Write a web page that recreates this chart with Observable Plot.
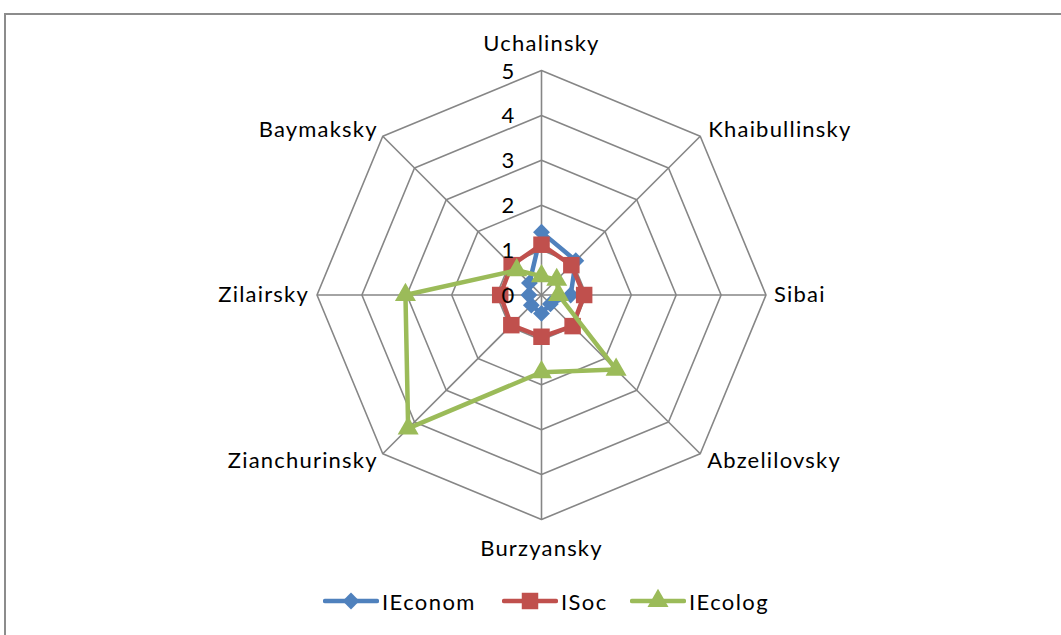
<!DOCTYPE html>
<html>
<head>
<meta charset="utf-8">
<script src="https://cdn.jsdelivr.net/npm/d3@7"></script>
<script src="https://cdn.jsdelivr.net/npm/@observablehq/plot@0.6"></script>
<style>
  html, body { margin: 0; padding: 0; background: #fff; overflow: hidden; }
  body { width: 1061px; height: 635px; position: relative; font-family: Lato, "Open Sans", sans-serif; }
  #frame { position: absolute; left: 4px; top: 13px; width: 1200px; height: 800px; border: 2px solid #8c8c8c; box-sizing: border-box; }
  #chart { position: absolute; left: 0; top: 0; }
  #legend { position: absolute; left: 0; top: 586px; width: 1061px; height: 30px; }
  .item { position: absolute; top: 0; display: flex; align-items: center; font-size: 22px; letter-spacing: 1.4px; color: #000; }
  .item svg { margin-right: 3px; }
</style>
</head>
<body>
<div id="frame"></div>
<div id="chart"></div>
<div id="legend"></div>
<script>
// ---- data ----
const categories = ["Uchalinsky", "Khaibullinsky", "Sibai", "Abzelilovsky", "Burzyansky", "Zianchurinsky", "Zilairsky", "Baymaksky"];
const IEconom = [1.4, 1.08, 0.65, 0.28, 0.41, 0.32, 0.28, 0.38];
const ISoc = [1.12, 0.94, 0.95, 0.98, 0.93, 0.95, 0.92, 0.94];
const IEcolog = [0.42, 0.48, 0.38, 2.35, 1.72, 4.2, 3.03, 0.78];
const ticks = [0, 1, 2, 3, 4, 5];
const seriesNames = ["IEconom", "ISoc", "IEcolog"];
const seriesColors = ["#4F81BD", "#C0504D", "#9BBB59"];
const seriesSymbols = ["diamond2", "square", "triangle"];
const seriesR = [7.6, 9.3, 7.8];

// ---- geometry helpers ----
const n = categories.length;
const angle = i => Math.PI / 2 - i * 2 * Math.PI / n;
const pt = (i, r) => [r * Math.cos(angle(i)), r * Math.sin(angle(i))];

const W = 1061, H = 575;
const cx = 541, cy = 294.5, unit = 44.9;
const maxR = d3.max(ticks);

// grid rings
const rings = [];
ticks.filter(t => t > 0).forEach(t => categories.forEach((c, i) => {
  const [x, y] = pt(i, t); rings.push({ring: t, x, y});
}));
// spokes
const spokes = categories.map((c, i) => { const [x2, y2] = pt(i, maxR); return {x1: 0, y1: 0, x2, y2}; });
// tick labels
const tickData = ticks.map(t => ({t, x: 0, y: t}));
// category labels
const labelOpts = [
  {anchor: "middle", dx: 0, dy: -27},
  {anchor: "start", dx: 8, dy: -6},
  {anchor: "start", dx: 8, dy: 0},
  {anchor: "start", dx: 7, dy: 7},
  {anchor: "middle", dx: 0, dy: 29},
  {anchor: "end", dx: -5, dy: 7},
  {anchor: "end", dx: -8, dy: 0},
  {anchor: "end", dx: -5, dy: -6}
];
const catData = categories.map((c, i) => { const [x, y] = pt(i, maxR); return {c, x, y, ...labelOpts[i]}; });

// series
const allSeries = [IEconom, ISoc, IEcolog];
const seriesData = allSeries.map((vals, s) => vals.map((v, i) => {
  const [x, y] = pt(i, v); return {series: seriesNames[s], cat: categories[i], v, x, y};
}));

const marks = [
  Plot.line(rings, {x: "x", y: "y", z: "ring", curve: "linear-closed", stroke: "#868686", strokeWidth: 1.6}),
  Plot.link(spokes, {x1: "x1", y1: "y1", x2: "x2", y2: "y2", stroke: "#868686", strokeWidth: 1.6}),
];
seriesData.forEach((d, s) => {
  marks.push(Plot.line(d, {x: "x", y: "y", curve: "linear-closed", stroke: seriesColors[s], strokeWidth: 4.5, strokeLinejoin: "round"}));
  marks.push(Plot.dot(d, {x: "x", y: "y", symbol: seriesSymbols[s], r: seriesR[s], fill: seriesColors[s], stroke: "none"}));
});
marks.push(Plot.text(tickData, {x: "x", y: "y", text: d => String(d.t), dx: -33, dy: 1, fontSize: 22, fill: "#000", textAnchor: "middle"}));
["start", "middle", "end"].forEach(a => {
  const sub = catData.filter(d => d.anchor === a);
  sub.forEach(d => marks.push(Plot.text([d], {x: "x", y: "y", text: "c", dx: d.dx, dy: d.dy, textAnchor: a, fontSize: 22, fill: "#000"})));
});

const chart = Plot.plot({
  width: W, height: H,
  margin: 0,
  style: {fontFamily: "Lato, 'Open Sans', sans-serif", background: "transparent", overflow: "visible", letterSpacing: "1.2px"},
  x: {type: "linear", domain: [-cx / unit, (W - cx) / unit], range: [0, W], axis: null},
  y: {type: "linear", domain: [-(H - cy) / unit, cy / unit], range: [H, 0], axis: null},
  marks
});
document.getElementById("chart").appendChild(chart);

// legend
const legend = document.getElementById("legend");
const legendX = [323, 502, 630];
seriesNames.forEach((name, s) => {
  const item = document.createElement("div");
  item.className = "item";
  item.style.left = legendX[s] + "px";
  const sym = d3.symbol().type([d3.symbolDiamond2, d3.symbolSquare, d3.symbolTriangle][s]).size(seriesR[s] * seriesR[s] * Math.PI)();
  item.innerHTML = `<svg width="56" height="30" viewBox="0 0 56 30"><line x1="2" y1="15" x2="54" y2="15" stroke="${seriesColors[s]}" stroke-width="4.5" stroke-linecap="round"/><path d="${sym}" transform="translate(28,15)" fill="${seriesColors[s]}"/></svg><span>${name}</span>`;
  legend.appendChild(item);
});
</script>
</body>
</html>
